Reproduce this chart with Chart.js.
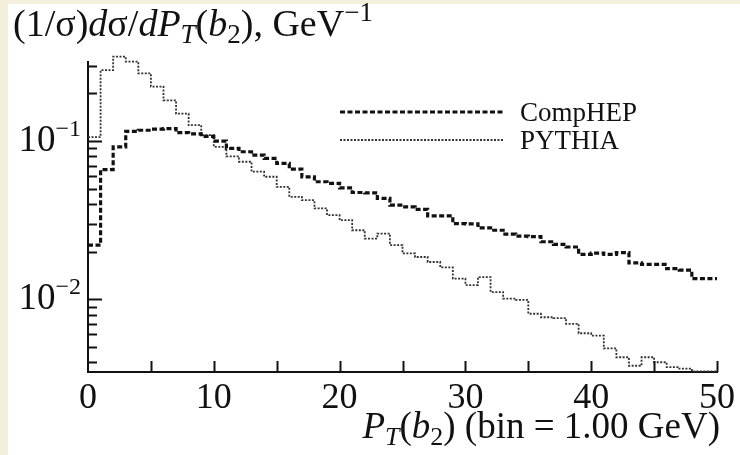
<!DOCTYPE html>
<html>
<head>
<meta charset="utf-8">
<script src="https://cdn.jsdelivr.net/npm/chart.js@4.4.1/dist/chart.umd.min.js"></script>
<style>
    html, body { margin: 0; padding: 0; background: #fff; }
    canvas { display: block; }
</style>
</head>
<body>
<canvas id="ptChart" width="740" height="455"></canvas>
<script>
// P_T(b2) spectra, 1 GeV bins from 0 to 50 GeV (value = bin content, left edge = index * binWidth)
const binWidth = 1.0;

const compHEP = [
    0.022, 0.066, 0.092, 0.115, 0.117, 0.119, 0.120, 0.113, 0.111, 0.107,
    0.100, 0.090, 0.0856, 0.0815, 0.0777, 0.0722, 0.0665, 0.0594, 0.0553, 0.054,
    0.0506, 0.0473, 0.0471, 0.0434, 0.0394, 0.0384, 0.037, 0.0337, 0.0337, 0.0301,
    0.030, 0.0283, 0.0273, 0.0258, 0.0251, 0.0249, 0.0231, 0.0222, 0.0214, 0.0192,
    0.0196, 0.0192, 0.0197, 0.017, 0.0166, 0.0166, 0.0156, 0.0153, 0.0135, 0.0135
];

const pythia = [
    0.106, 0.281, 0.342, 0.318, 0.268, 0.221, 0.181, 0.149, 0.126, 0.109,
    0.092, 0.080, 0.074, 0.064, 0.0595, 0.0514, 0.0444, 0.0423, 0.0375, 0.034,
    0.0316, 0.0273, 0.0242, 0.026, 0.022, 0.0195, 0.0185, 0.0172, 0.0159, 0.0135,
    0.0123, 0.0138, 0.0111, 0.0101, 0.0099, 0.0081, 0.0077, 0.0076, 0.0070, 0.0061,
    0.0059, 0.0049, 0.0043, 0.0038, 0.0043, 0.0040, 0.00373, 0.00365, 0.0035, 0.0035
];

const seriesNames = ['CompHEP', 'PYTHIA'];

// axis ranges and ticks
const xMin = 0;
const xMax = 50;
const yMin = 0.00347;
const yMax = 0.316;
const xTicks = [0, 10, 20, 30, 40, 50];
const xTickLabels = ['0', '10', '20', '30', '40', '50'];
const xMinorTicks = [5, 15, 25, 35, 45];
const yTicks = [0.01, 0.1];
const yTickLabels = [['10', '\u22122'], ['10', '\u22121']];
const yMinorTicks = [0.004, 0.005, 0.006, 0.007, 0.008, 0.009,
    0.02, 0.03, 0.04, 0.05, 0.06, 0.07, 0.08, 0.09, 0.2, 0.3];

const SERIF = '"Liberation Serif", "Times New Roman", serif';

/**
 * Turn bin contents into step points (left edges plus closing right edge)
 */
function toSteps(values) {
    const pts = values.map((v, i) => ({ x: i * binWidth, y: v }));
    pts.push({ x: values.length * binWidth, y: values[values.length - 1] });
    return pts;
}

/**
 * Draw text made of several pieces (italic, sub/superscript)
 */
function drawRich(ctx, x, y, parts, size, align) {
    const fontFor = p => `${p.italic ? 'italic ' : ''}${Math.round(size * (p.scale || 1))}px ${SERIF}`;
    let total = 0;
    parts.forEach(p => {
        ctx.font = fontFor(p);
        p.w = ctx.measureText(p.t).width;
        total += p.w;
    });
    let cx = x;
    if (align === 'right') cx = x - total;
    if (align === 'center') cx = x - total / 2;
    ctx.textAlign = 'left';
    ctx.textBaseline = 'alphabetic';
    parts.forEach(p => {
        ctx.font = fontFor(p);
        ctx.fillText(p.t, cx, y + (p.dy || 0));
        cx += p.w;
    });
}

const decorations = {
    id: 'decorations',
    beforeDraw(chart) {
        const ctx = chart.ctx;
        ctx.save();
        ctx.fillStyle = '#ffffff';
        ctx.fillRect(0, 0, chart.width, chart.height);
        ctx.fillStyle = '#f3efdc';
        ctx.fillRect(0, 0, 8, chart.height);
        ctx.fillRect(0, 0, chart.width, 4);
        ctx.restore();
    },
    afterDraw(chart) {
        const ctx = chart.ctx;
        const xs = chart.scales.x;
        const ys = chart.scales.y;
        const area = chart.chartArea;
        ctx.save();
        ctx.strokeStyle = '#111';
        ctx.fillStyle = '#111';
        ctx.lineWidth = 2;

        // inward ticks on the y axis
        yMinorTicks.concat(yTicks).forEach(v => {
            const py = Math.round(ys.getPixelForValue(v)) + 0.5;
            const len = yTicks.includes(v) ? 14 : 9;
            ctx.beginPath();
            ctx.moveTo(area.left, py);
            ctx.lineTo(area.left + len, py);
            ctx.stroke();
        });

        // inward ticks on the x axis
        xMinorTicks.concat(xTicks.slice(1)).forEach(v => {
            const px = Math.round(xs.getPixelForValue(v)) + 0.5;
            ctx.beginPath();
            ctx.moveTo(px, area.bottom);
            ctx.lineTo(px, area.bottom - 11);
            ctx.stroke();
        });

        // tick labels
        xTicks.forEach((v, i) => {
            drawRich(ctx, xs.getPixelForValue(v), area.bottom + 36, [{ t: xTickLabels[i] }], 36, 'center');
        });
        yTicks.forEach((v, i) => {
            const py = ys.getPixelForValue(v);
            drawRich(ctx, area.left - 7, py + 10, [
                { t: yTickLabels[i][0] },
                { t: yTickLabels[i][1], scale: 0.65, dy: -15 }
            ], 37, 'right');
        });

        // y title
        drawRich(ctx, 13, 36, [
            { t: '(1/\u03c3)' },
            { t: 'd', italic: true },
            { t: '\u03c3/' },
            { t: 'dP', italic: true },
            { t: 'T', italic: true, scale: 0.7, dy: 7 },
            { t: '(' },
            { t: 'b', italic: true },
            { t: '2', scale: 0.7, dy: 7 },
            { t: '), GeV' },
            { t: '\u22121', scale: 0.7, dy: -15 }
        ], 38, 'left');

        // x title
        drawRich(ctx, 720, 438, [
            { t: 'P', italic: true },
            { t: 'T', italic: true, scale: 0.7, dy: 7 },
            { t: '(' },
            { t: 'b', italic: true },
            { t: '2', scale: 0.7, dy: 7 },
            { t: ') (bin = 1.00 GeV)' }
        ], 37, 'right');

        // legend
        chart.data.datasets.forEach((ds, i) => {
            const ly = 112 + i * 28;
            ctx.save();
            ctx.strokeStyle = ds.borderColor;
            ctx.lineWidth = ds.borderWidth;
            ctx.setLineDash(ds.borderDash);
            ctx.beginPath();
            ctx.moveTo(340, ly);
            ctx.lineTo(503, ly);
            ctx.stroke();
            ctx.restore();
            drawRich(ctx, 520, ly + 9, [{ t: ds.label }], 27, 'left');
        });
        ctx.restore();
    }
};

new Chart(document.getElementById('ptChart'), {
    type: 'line',
    data: {
        datasets: [
            {
                label: seriesNames[0],
                data: toSteps(compHEP),
                stepped: true,
                borderColor: '#111111',
                borderWidth: 3.2,
                borderDash: [5, 2.5],
                pointRadius: 0,
                fill: false,
                clip: { left: 2, right: 2, top: false, bottom: 0 }
            },
            {
                label: seriesNames[1],
                data: toSteps(pythia),
                stepped: true,
                borderColor: '#333333',
                borderWidth: 1.8,
                borderDash: [2, 1.5],
                pointRadius: 0,
                fill: false,
                clip: { left: 2, right: 2, top: false, bottom: 0 }
            }
        ]
    },
    options: {
        responsive: false,
        animation: false,
        layout: { padding: { left: 88, right: 23, top: 62, bottom: 83 } },
        plugins: {
            legend: { display: false },
            tooltip: { enabled: false }
        },
        scales: {
            x: {
                type: 'linear',
                min: xMin,
                max: xMax,
                grid: { display: false, drawTicks: false },
                ticks: { display: false },
                border: { display: true, color: '#111', width: 2 },
                afterFit: s => { s.height = 0; }
            },
            y: {
                type: 'logarithmic',
                min: yMin,
                max: yMax,
                grid: { display: false, drawTicks: false },
                ticks: { display: false },
                border: { display: true, color: '#111', width: 2 },
                afterFit: s => { s.width = 0; }
            }
        }
    },
    plugins: [decorations]
});
</script>
</body>
</html>
